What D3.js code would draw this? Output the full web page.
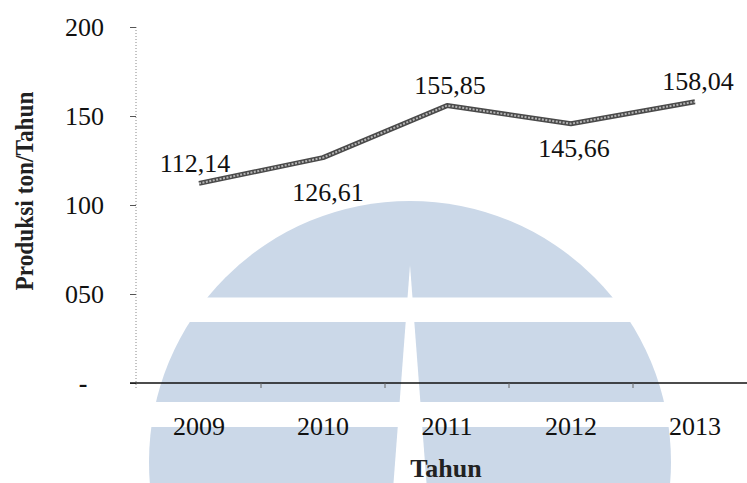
<!DOCTYPE html>
<html><head><meta charset="utf-8">
<script src="https://cdn.jsdelivr.net/npm/d3@7"></script>
<style>
html,body{margin:0;padding:0;background:#fff;}
svg{display:block;}
</style>
</head><body>
<svg id="chart" width="747" height="483"></svg>
<script>
const years = ["2009","2010","2011","2012","2013"];
const production = [112.14, 126.61, 155.85, 145.66, 158.04];
const valueLabels = ["112,14","126,61","155,85","145,66","158,04"];
const yTickValues = [0, 50, 100, 150, 200];
const yTickLabels = ["-", "050", "100", "150", "200"];
const yTitle = "Produksi ton/Tahun";
const xTitle = "Tahun";

const W = 747, H = 483;
const svg = d3.select("#chart");
const font = "'Liberation Serif','Times New Roman',serif";

// watermark (background logo)
const wm = svg.append("g");
const cx = 410, cy = 462, r = 261;
wm.append("circle").attr("cx", cx).attr("cy", cy).attr("r", r).attr("fill", "#cbd8e8");
wm.append("rect").attr("x", 0).attr("y", 297.5).attr("width", W).attr("height", 24.5).attr("fill", "#fff");
wm.append("rect").attr("x", 0).attr("y", 402).attr("width", W).attr("height", 25).attr("fill", "#fff");
wm.append("path").attr("d", `M${cx},265 L${cx+16.5},${H} L${cx-16.5},${H} Z`).attr("fill", "#fff");

const x = d3.scaleBand().domain(years).range([137, 757]);
const y = d3.scaleLinear().domain([0, 200]).range([383, 27]);
const xc = d => x(d) + x.bandwidth() / 2;

// y axis
const yAxis = svg.append("g").attr("transform", "translate(136,0)")
  .call(d3.axisLeft(y).tickValues(yTickValues)
    .tickFormat((d, i) => yTickLabels[i]).tickSize(6).tickPadding(26));
yAxis.select(".domain").attr("stroke", "#888").attr("stroke-width", 1)
  .attr("stroke-dasharray", "1,2").attr("d", "M0,27V388");
yAxis.selectAll(".tick line").attr("stroke", "#555").attr("stroke-width", 1);
yAxis.selectAll(".tick text").attr("font-family", font).attr("font-size", 26)
  .attr("fill", "#111").attr("dy", "0.34em");
yAxis.selectAll(".tick").filter(d => d === 0).select("text")
  .attr("text-anchor", "middle").attr("x", -53).attr("font-weight", "bold");

// x axis
const xAxis = svg.append("g").attr("transform", "translate(0,383)")
  .call(d3.axisBottom(x).tickSize(0).tickPadding(34));
xAxis.select(".domain").attr("d", "M130,0H747").attr("stroke", "#111").attr("stroke-width", 1.6);
xAxis.selectAll(".tick text").attr("font-family", font).attr("font-size", 26).attr("fill", "#111");
xAxis.selectAll(".bnd").data(years.slice(1)).join("line").attr("class", "bnd")
  .attr("x1", d => x(d)).attr("x2", d => x(d)).attr("y1", 0).attr("y2", 5)
  .attr("stroke", "#666").attr("stroke-width", 1);

// line
const line = d3.line().x((d, i) => xc(years[i])).y(d => y(d));
svg.append("path").datum(production).attr("d", line)
  .attr("fill", "none").attr("stroke", "#4a4a4a").attr("stroke-width", 5).attr("stroke-linejoin", "round");
svg.append("path").datum(production).attr("d", line)
  .attr("fill", "none").attr("stroke", "#b4b4b4").attr("stroke-width", 2)
  .attr("stroke-dasharray", "2,1.5");

// data labels
const labelDx = [-4, 5, 3, 3, 3];
const labelDy = [-11, 43, -12, 33, -12];
svg.append("g").selectAll("text").data(production).join("text")
  .attr("x", (d, i) => xc(years[i]) + labelDx[i])
  .attr("y", (d, i) => y(d) + labelDy[i])
  .attr("text-anchor", "middle").attr("font-family", font).attr("font-size", 26).attr("fill", "#111")
  .text((d, i) => valueLabels[i]);

// titles
svg.append("text").attr("transform", "translate(33,191) rotate(-90)")
  .attr("text-anchor", "middle").attr("font-family", font).attr("font-size", 26)
  .attr("font-weight", "bold").attr("fill", "#222").attr("textLength", 199)
  .attr("lengthAdjust", "spacingAndGlyphs").text(yTitle);
svg.append("text").attr("x", 446).attr("y", 477)
  .attr("text-anchor", "middle").attr("font-family", font).attr("font-size", 26)
  .attr("font-weight", "bold").attr("fill", "#222").text(xTitle);
</script>
</body></html>
